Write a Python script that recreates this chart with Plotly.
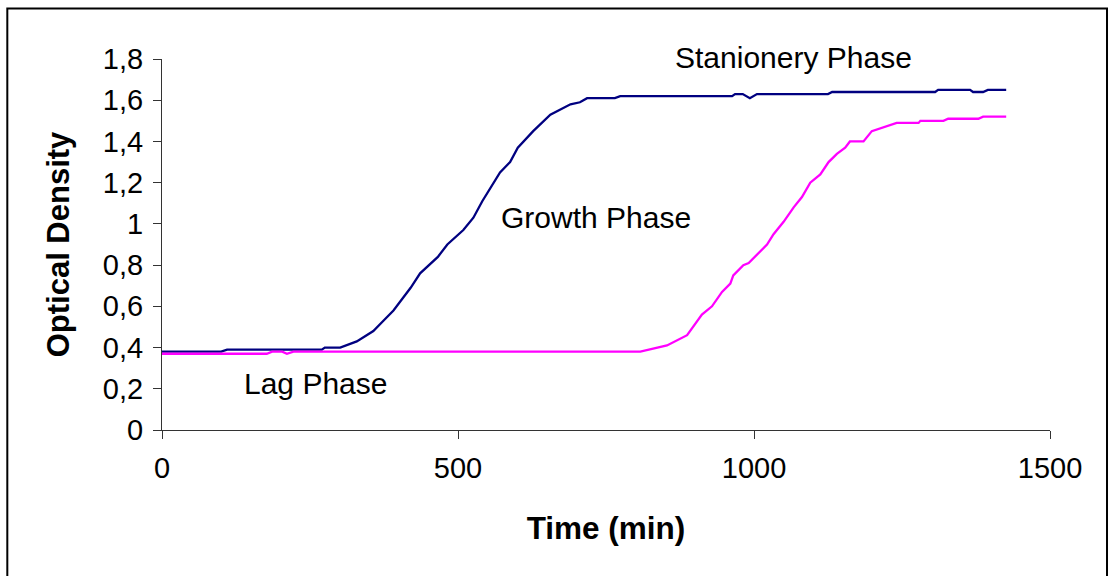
import plotly.graph_objects as go

# Series 1 (navy)
time_1 = [0, 100, 110, 270, 275, 301, 329, 357, 374, 391, 420, 436, 466, 482, 509, 526, 541,
          571, 588, 601, 627, 656, 690, 706, 718, 765, 774, 963, 968, 981, 993, 1005, 1125,
          1132, 1306, 1311, 1365, 1370, 1387, 1395, 1426]
od_1 = [0.38, 0.38, 0.39, 0.39, 0.40, 0.40, 0.43, 0.48, 0.53, 0.58, 0.69, 0.76, 0.84, 0.90, 0.97,
        1.03, 1.11, 1.25, 1.30, 1.37, 1.45, 1.53, 1.58, 1.59, 1.61, 1.61, 1.62, 1.62, 1.63, 1.63,
        1.61, 1.63, 1.63, 1.64, 1.64, 1.65, 1.65, 1.64, 1.64, 1.65, 1.65]

# Series 2 (magenta)
time_2 = [0, 177, 186, 203, 211, 222, 808, 853, 887, 912, 929, 946, 960, 965, 982, 991, 1022,
          1033, 1050, 1067, 1081, 1095, 1112, 1126, 1140, 1154, 1162, 1185, 1199, 1219, 1241,
          1278, 1281, 1320, 1328, 1379, 1387, 1426]
od_2 = [0.37, 0.37, 0.38, 0.38, 0.37, 0.38, 0.38, 0.41, 0.46, 0.56, 0.60, 0.67, 0.71, 0.75, 0.80,
        0.81, 0.90, 0.95, 1.01, 1.08, 1.13, 1.20, 1.24, 1.30, 1.34, 1.37, 1.40, 1.40, 1.45, 1.47,
        1.49, 1.49, 1.50, 1.50, 1.51, 1.51, 1.52, 1.52]

x_ticks = [0, 500, 1000, 1500]
y_ticks = [0, 0.2, 0.4, 0.6, 0.8, 1.0, 1.2, 1.4, 1.6, 1.8]

phase_labels = ["Stanionery Phase", "Growth Phase", "Lag Phase"]
phase_x = [1066, 733, 259]
phase_y = [1.80, 1.03, 0.225]

FONT = "Liberation Sans, Arial, sans-serif"

fig = go.Figure()
fig.add_trace(go.Scatter(x=time_1, y=od_1, mode="lines",
                         line=dict(color="#000080", width=2.3), showlegend=False))
fig.add_trace(go.Scatter(x=time_2, y=od_2, mode="lines",
                         line=dict(color="#FF00FF", width=2.3), showlegend=False))

for txt, ax_, ay_ in zip(phase_labels, phase_x, phase_y):
    fig.add_annotation(x=ax_, y=ay_, xref="x", yref="y", text=txt, showarrow=False,
                       yshift=2 if ay_ >= 1.8 else 0,
                       font=dict(family=FONT, size=30, color="black"))

fig.add_shape(type="rect", xref="paper", yref="paper",
              x0=-0.1742, x1=1.0642, y0=-0.6, y1=1.1359,
              line=dict(color="black", width=2), layer="above")

fig.update_layout(
    width=1109, height=576,
    margin=dict(l=162, r=59, t=59, b=146, pad=0),
    paper_bgcolor="white", plot_bgcolor="white",
    separators=", ",
    font=dict(family=FONT, size=29, color="black"),
    xaxis=dict(range=[0, 1500], tickvals=x_ticks, ticks="outside", ticklen=8,
               tickcolor="#333", showline=True, linecolor="#333", linewidth=1,
               showgrid=False, zeroline=False, ticklabelstandoff=4,
               title=dict(text="<b>Time (min)</b>", font=dict(family=FONT, size=31.5), standoff=34)),
    yaxis=dict(range=[0, 1.8], tickvals=y_ticks, ticks="outside", ticklen=8,
               tickcolor="#333", showline=True, linecolor="#333", linewidth=1,
               showgrid=False, zeroline=False, ticklabelstandoff=4,
               title=dict(text="<b>Optical Density</b>", font=dict(family=FONT, size=31), standoff=24)),
)

fig.write_html("out.html")
